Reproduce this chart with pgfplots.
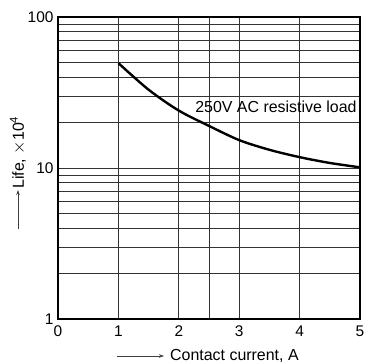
\documentclass[border=0pt]{standalone}
\usepackage{pgfplots}
\pgfplotsset{compat=1.18}
\usepackage{fontspec}
\setmainfont{Liberation Sans}
\usetikzlibrary{arrows.meta}
\begin{document}
\begin{tikzpicture}
\path[use as bounding box] (-58bp,-44bp) rectangle (308bp,319bp);
\begin{axis}[
  at={(0,0)}, anchor=south west,
  scale only axis, width=302bp, height=302bp,
  xmin=0, xmax=5, ymin=1, ymax=100,
  ymode=log,
  xtick={0,1,2,3,4,5},
  minor xtick={2.5},
  ytick={1,10,100},
  yticklabels={1,10,100},
  log ticks with fixed point,
  xmajorgrids, xminorgrids, ymajorgrids, yminorgrids,
  major tick length=0pt, minor tick length=0pt,
  grid style={black!80, line width=0.7bp},
  minor grid style={black!80, line width=0.7bp},
  axis line style={line width=1.8bp},
  tick label style={font=\fontsize{15.5}{17}\selectfont},
  /pgf/number format/assume math mode=true,
  xticklabel style={yshift=-3bp},
  yticklabel style={xshift=-1bp},
  clip=false,
]
\addplot[black, line width=2.4bp, smooth] coordinates {
 (1,49.5) (1.5,33) (2,24) (2.5,19) (3,15.3) (3.5,13.2) (4,11.8) (4.5,10.8) (5,10.1)
};
\node[anchor=base west, inner sep=0pt, font=\fontsize{16}{18}\selectfont] at (axis cs:2.27,23.2) {250V AC resistive load};
\end{axis}
\draw[black!75, line width=0.8bp, -{Stealth[length=5bp,width=3.5bp]}] (-40bp,90bp) -- (-40bp,129bp);
\node[rotate=90, anchor=west, inner sep=0pt, font=\fontsize{16}{18}\selectfont] at (-40bp,130bp) {Life, $\times$10\textsuperscript{4}};
\draw[black!75, line width=0.8bp, -{Stealth[length=5bp,width=3.5bp]}] (59bp,-37bp) -- (106bp,-37bp);
\node[anchor=west, inner sep=0pt, font=\fontsize{16}{18}\selectfont] at (112bp,-37bp) {Contact current, A};
\end{tikzpicture}
\end{document}
